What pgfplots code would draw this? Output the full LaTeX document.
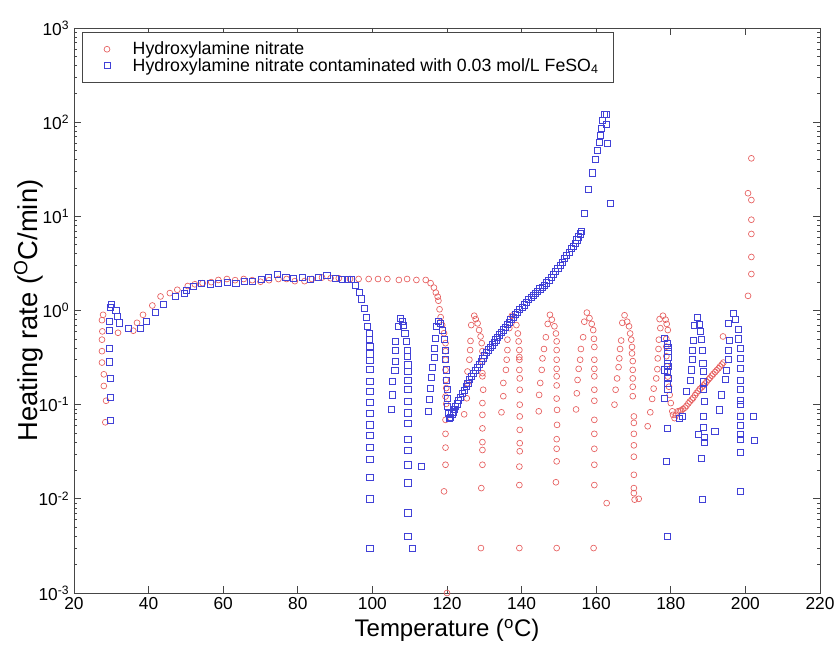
\documentclass[border=0pt]{standalone}
\usepackage{fontspec}
\setmainfont{Liberation Sans}
\usepackage{pgfplots}
\pgfplotsset{compat=1.18}
\definecolor{mred}{RGB}{230,95,95}
\definecolor{mblue}{RGB}{65,65,215}
\definecolor{axgray}{RGB}{70,70,70}
\begin{document}
\begin{tikzpicture}
\begin{axis}[
 scale only axis, width=559.5pt, height=423.75pt,
 xmin=20, xmax=220, ymode=log, ymin=1e-3, ymax=1e3,
 xtick={20,40,...,220},
 ytick={1e-3,1e-2,1e-1,1,1e1,1e2,1e3},
 yticklabels={10\textsuperscript{-3},10\textsuperscript{-2},10\textsuperscript{-1},10\textsuperscript{0},10\textsuperscript{1},10\textsuperscript{2},10\textsuperscript{3}},
 tick align=inside, major tick length=5pt, minor tick length=2.5pt,
 axis line style={axgray, line width=0.7pt}, every tick/.style={axgray, line width=0.5pt},
 tick label style={font=\fontsize{13}{15}\selectfont},
 /pgf/number format/assume math mode=true,
 xlabel={Temperature (\textsuperscript{o}C)},
 ylabel={Heating rate (\textsuperscript{O}C/min)},
 xlabel style={font=\fontsize{18}{20}\selectfont},
 ylabel style={font=\fontsize{20.5}{22}\selectfont, at={(axis description cs:-0.061,0.5)}, anchor=center},
 legend style={at={(0.011,0.993)}, anchor=north west, draw=axgray, line width=0.6pt,
   font=\fontsize{13.3}{14}\selectfont, cells={anchor=west}, row sep=0pt,
   nodes={inner ysep=0.6pt, inner xsep=2pt}, inner xsep=9pt, inner ysep=6.5pt},
 legend image code/.code={\path (0pt,0pt) (26pt,0pt); \draw[#1] plot coordinates {(9pt,0pt)};},
]
\addplot[only marks, mark=o, mred, mark size=2.2pt, mark options={draw=mred, line width=0.5pt}] table {
x y
27.8 0.90
27.5 0.79
27.6 0.60
27.5 0.49
27.5 0.37
27.5 0.28
28.0 0.21
28.0 0.158
28.6 0.110
28.4 0.065
31.8 0.58
35.9 0.61
36.9 0.74
38.5 0.90
41.0 1.13
43.2 1.41
45.7 1.53
47.7 1.66
50.5 1.82
52.4 1.90
54.5 1.95
56.8 2.00
58.7 2.11
61.0 2.16
63.2 2.10
65.5 2.16
67.8 2.10
70.0 2.02
72.3 2.10
74.8 2.16
77.0 2.16
79.2 2.05
81.8 2.05
83.8 2.16
86.5 2.24
88.8 2.20
91.0 2.20
94.0 2.16
96.3 2.16
99.0 2.16
101.5 2.16
104.0 2.16
107.1 2.11
109.3 2.16
111.8 2.11
114.3 2.11
115.6 1.95
116.5 1.75
117.0 1.55
117.5 1.40
117.7 1.27
118.0 1.03
118.3 0.85
118.7 0.70
119.2 0.575
119.6 0.45
119.6 0.37
119.6 0.30
119.6 0.234
119.7 0.183
119.8 0.15
119.6 0.122
119.8 0.102
119.6 0.069
119.6 0.049
119.6 0.035
119.6 0.023
119.2 0.012
120.0 0.001
124.6 0.079
125.3 0.117
125.5 0.169
125.5 0.225
126.0 0.30
126.2 0.38
126.3 0.475
126.5 0.70
127.3 0.88
127.7 0.81
128.2 0.73
128.6 0.62
129.0 0.53
129.3 0.45
129.5 0.37
129.5 0.287
129.5 0.216
129.5 0.20
129.7 0.144
129.5 0.104
129.5 0.078
129.5 0.056
129.5 0.040
129.5 0.033
129.5 0.023
129.2 0.013
129.1 0.003
134.6 0.083
135.1 0.123
135.1 0.17
135.8 0.234
136.0 0.30
136.2 0.38
136.2 0.49
136.7 0.65
137.4 0.88
138.0 0.83
138.6 0.70
139.0 0.57
139.2 0.47
139.4 0.38
139.4 0.32
139.4 0.30
139.4 0.234
139.5 0.19
139.5 0.144
139.5 0.10
139.5 0.075
139.5 0.054
139.5 0.039
139.5 0.032
139.4 0.022
139.4 0.014
139.4 0.003
144.6 0.085
144.7 0.127
145.0 0.17
145.4 0.234
145.6 0.31
146.0 0.39
146.5 0.52
147.0 0.72
147.6 0.90
148.1 0.80
148.8 0.68
149.2 0.57
149.4 0.47
149.4 0.38
149.4 0.30
149.4 0.24
149.4 0.20
149.4 0.16
149.4 0.116
149.5 0.088
149.5 0.061
149.4 0.043
149.4 0.034
149.4 0.025
149.2 0.015
149.4 0.003
154.6 0.089
154.8 0.132
155.0 0.183
155.3 0.24
155.7 0.30
155.9 0.39
156.5 0.52
156.8 0.76
157.5 0.95
158.2 0.83
158.8 0.72
159.2 0.62
159.4 0.50
159.5 0.41
159.5 0.30
159.5 0.24
159.5 0.20
159.5 0.144
159.5 0.11
159.5 0.069
159.5 0.049
159.5 0.034
159.5 0.023
159.5 0.014
159.3 0.003
162.8 0.009
164.9 0.10
165.2 0.144
165.6 0.19
166.0 0.25
166.2 0.31
166.4 0.39
166.7 0.48
167.0 0.74
167.6 0.89
168.3 0.76
168.8 0.68
169.1 0.57
169.4 0.49
169.6 0.41
169.6 0.35
169.8 0.29
169.8 0.234
169.8 0.19
169.8 0.155
169.8 0.123
170.1 0.075
170.1 0.064
170.1 0.049
170.1 0.037
170.1 0.028
170.1 0.018
170.1 0.013
170.1 0.0115
170.3 0.0098
171.4 0.0100
173.8 0.059
174.5 0.083
175.0 0.115
175.4 0.148
176.1 0.19
176.4 0.238
176.5 0.31
176.7 0.39
176.8 0.49
177.2 0.65
177.0 0.81
177.9 0.88
178.6 0.80
178.9 0.72
179.2 0.62
178.8 0.50
178.8 0.414
178.8 0.327
179.0 0.255
179.2 0.199
179.5 0.155
179.7 0.127
180.0 0.104
180.4 0.085
180.6 0.078
181.0 0.072
181.4 0.078
181.9 0.085
182.4 0.086
182.8 0.087
183.3 0.090
183.8 0.093
184.2 0.097
184.7 0.103
185.1 0.108
185.6 0.113
186.0 0.118
186.5 0.126
186.9 0.133
187.4 0.140
187.8 0.147
188.3 0.153
188.7 0.160
189.2 0.167
189.6 0.175
190.1 0.185
190.5 0.193
191.0 0.203
191.4 0.212
191.9 0.222
192.3 0.232
192.8 0.243
193.2 0.255
193.7 0.267
194.1 0.280
194.0 0.53
200.7 1.43
201.6 2.44
201.6 3.7
201.6 6.5
201.6 9.2
201.6 14.9
200.7 17.6
201.6 41.3
};
\addlegendentry{Hydroxylamine nitrate}
\addplot[only marks, mark=square, mblue, mark size=2.3pt, mark options={draw=mblue, line width=0.5pt}] table {
x y
30.0 1.17
29.8 1.08
31.2 1.01
31.6 0.86
32.1 0.74
29.4 0.77
29.4 0.61
29.4 0.40
29.4 0.285
29.8 0.19
29.8 0.119
29.8 0.068
34.5 0.64
37.8 0.64
39.4 0.76
41.7 0.96
43.9 1.17
47.2 1.41
49.6 1.52
50.2 1.65
52.0 1.79
54.2 1.95
56.5 1.92
58.7 1.95
61.2 2.00
63.4 1.95
65.7 2.06
67.9 2.06
70.2 2.16
72.2 2.24
74.4 2.43
76.8 2.24
78.9 2.20
81.1 2.24
83.4 2.16
85.6 2.24
87.8 2.35
90.1 2.20
91.9 2.16
93.2 2.16
94.4 2.16
95.5 1.87
96.4 1.56
97.1 1.33
97.9 1.06
98.3 0.85
98.7 0.68
99.1 0.575
99.2 0.496
99.3 0.414
99.3 0.347
99.3 0.295
99.3 0.235
99.3 0.176
99.3 0.138
99.3 0.105
99.3 0.081
99.3 0.061
99.3 0.047
99.3 0.035
99.3 0.026
99.3 0.017
99.3 0.010
99.3 0.003
105.0 0.090
105.3 0.127
105.3 0.176
106.0 0.23
106.2 0.29
106.2 0.375
106.2 0.47
106.9 0.68
107.5 0.83
108.0 0.76
108.4 0.70
108.7 0.575
109.2 0.47
109.4 0.38
109.4 0.325
109.5 0.265
109.5 0.225
109.5 0.183
109.5 0.144
109.5 0.108
109.5 0.082
109.5 0.064
109.5 0.043
109.5 0.033
109.5 0.023
109.5 0.0148
109.5 0.0071
109.5 0.0040
110.7 0.0030
113.2 0.022
114.9 0.085
115.3 0.115
115.6 0.15
115.9 0.195
116.0 0.25
116.5 0.32
116.5 0.40
116.8 0.51
117.1 0.68
117.6 0.76
118.3 0.73
118.8 0.62
119.2 0.49
119.5 0.38
119.6 0.30
119.8 0.234
119.8 0.183
120.0 0.144
120.0 0.117
120.2 0.096
120.5 0.081
120.6 0.072
121.0 0.074
121.3 0.080
121.6 0.084
121.9 0.089
122.3 0.095
122.7 0.102
123.1 0.110
123.6 0.120
124.1 0.131
124.6 0.143
125.1 0.156
125.6 0.170
126.1 0.185
126.6 0.199
127.1 0.214
127.6 0.231
128.1 0.248
128.6 0.268
129.1 0.288
129.6 0.310
130.1 0.335
130.6 0.359
131.1 0.382
131.6 0.406
132.1 0.432
132.6 0.459
133.1 0.488
133.6 0.519
134.1 0.552
134.6 0.587
135.1 0.624
135.6 0.665
136.1 0.708
136.6 0.755
137.1 0.804
137.7 0.851
138.3 0.904
138.9 0.959
139.5 1.018
140.1 1.081
140.7 1.15
141.3 1.22
141.9 1.30
142.5 1.38
143.1 1.46
143.7 1.53
144.3 1.61
144.9 1.70
145.5 1.78
146.1 1.87
146.7 1.97
147.3 2.07
147.9 2.23
148.5 2.40
149.1 2.60
149.7 2.80
150.3 3.03
150.9 3.27
151.5 3.55
152.1 3.85
152.7 4.18
153.3 4.53
153.8 4.85
154.3 5.22
154.8 5.62
155.3 6.05
155.8 6.51
156.0 6.9
156.8 10.7
157.9 19.4
158.9 29
159.8 40
160.4 50
160.9 61
161.1 73
161.3 86
161.7 105
162.2 120
162.6 120
162.8 95
163.1 59
163.7 13.8
178.3 0.51
179.0 0.45
179.2 0.41
179.2 0.37
179.2 0.32
179.0 0.276
179.2 0.254
178.3 0.234
179.0 0.224
179.2 0.19
179.0 0.169
179.2 0.144
178.3 0.117
179.0 0.056
178.8 0.025
179.0 0.004
182.4 0.072
183.1 0.075
184.2 0.14
185.3 0.183
185.5 0.234
185.8 0.30
185.8 0.38
186.0 0.48
186.4 0.70
187.1 0.85
187.7 0.72
187.9 0.60
188.2 0.49
188.5 0.38
188.6 0.276
188.8 0.224
188.8 0.175
188.8 0.144
188.9 0.108
188.8 0.075
188.8 0.058
188.9 0.045
189.1 0.040
187.3 0.048
188.2 0.027
188.5 0.0099
191.8 0.052
193.0 0.088
193.6 0.127
194.7 0.187
194.9 0.233
195.4 0.30
195.4 0.38
195.6 0.48
195.4 0.73
196.7 0.94
197.4 0.80
198.0 0.63
198.2 0.50
198.7 0.40
198.7 0.31
198.7 0.244
198.7 0.183
198.7 0.144
198.7 0.112
198.7 0.10
198.7 0.075
198.7 0.060
198.7 0.048
198.7 0.043
198.7 0.031
198.7 0.012
202.1 0.075
202.3 0.042
};
\addlegendentry{Hydroxylamine nitrate contaminated with 0.03 mol/L FeSO\textsubscript{4}}
\coordinate (SW) at (rel axis cs:0,0);
\end{axis}
\pgfresetboundingbox
\path (SW) ++(-55.5pt,-41.25pt) rectangle ++(629.25pt,486pt);
\end{tikzpicture}
\end{document}
